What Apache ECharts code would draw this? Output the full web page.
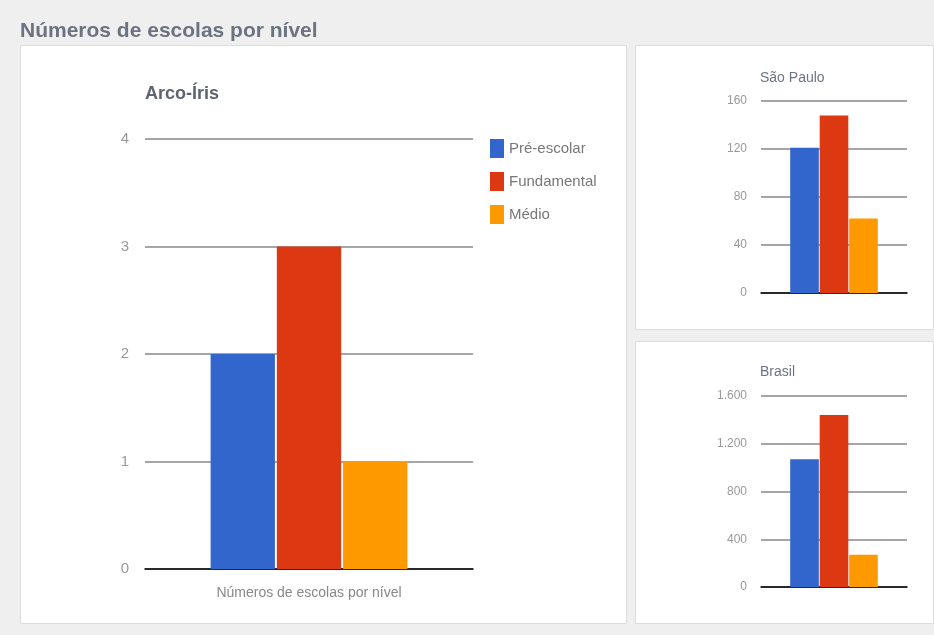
<!DOCTYPE html>
<html>
<head>
<meta charset="utf-8">
<script src="https://cdn.jsdelivr.net/npm/echarts@6/dist/echarts.min.js"></script>
<style>
html,body{margin:0;padding:0;background:#efefef;}
#c{width:934px;height:635px;}
</style>
</head>
<body>
<div id="c"></div>
<script>
var seriesNames = ['Pré-escolar', 'Fundamental', 'Médio'];
var colors = ['#3366cc', '#dc3912', '#ff9900'];
var categories = ['Números de escolas por nível'];
var arcoIris = [2, 3, 1];
var saoPaulo = [121, 148, 62];
var brasil = [1070, 1440, 270];
var mainTitle = 'Números de escolas por nível';
var chartTitles = ['Arco-Íris', 'São Paulo', 'Brasil'];

var FONT = '"Liberation Sans", Arial, sans-serif';
function ptBR(v){ return String(v).replace(/\B(?=(\d{3})+(?!\d))/g, '.'); }

var chart = echarts.init(document.getElementById('c'));

function yAx(gi, max, interval, fs, fmt){
  return {
    type: 'value', gridIndex: gi, min: 0, max: max, interval: interval,
    axisLine: {show: false}, axisTick: {show: false},
    axisLabel: {color: '#999', fontSize: fs, fontFamily: FONT, margin: gi === 0 ? 16 : 14, formatter: fmt},
    splitLine: {lineStyle: {color: '#888', width: 1.5}}
  };
}
function xAx(gi, showLabel){
  return {
    type: 'category', gridIndex: gi, data: categories,
    axisLine: {lineStyle: {color: '#000', width: 1.5}},
    axisTick: {show: false},
    axisLabel: {show: showLabel, color: '#888', fontSize: 14, fontFamily: FONT, margin: 17}
  };
}

var datasets = [arcoIris, saoPaulo, brasil];
var series = [];
for (var g = 0; g < 3; g++) {
  for (var s = 0; s < 3; s++) {
    series.push({
      type: 'bar', name: seriesNames[s], xAxisIndex: g, yAxisIndex: g,
      data: [datasets[g][s]],
      barGap: '3%', barCategoryGap: '40%',
      itemStyle: {color: colors[s]},
      emphasis: {disabled: true}
    });
  }
}

chart.setOption({
  backgroundColor: '#efefef',
  animation: false,
  color: colors,
  graphic: [
    {type: 'rect', shape: {x: 20.5, y: 45.5, width: 606, height: 578}, style: {fill: '#fff', stroke: '#dcdcdc', lineWidth: 1}, z: -10},
    {type: 'rect', shape: {x: 635.5, y: 45.5, width: 298, height: 284}, style: {fill: '#fff', stroke: '#dcdcdc', lineWidth: 1}, z: -10},
    {type: 'rect', shape: {x: 635.5, y: 341.5, width: 298, height: 282}, style: {fill: '#fff', stroke: '#dcdcdc', lineWidth: 1}, z: -10}
  ],
  title: [
    {text: mainTitle, left: 15, top: 16, textStyle: {fontFamily: FONT, fontSize: 21, fontWeight: 'bold', color: '#6b7380'}},
    {text: chartTitles[0], left: 140, top: 80, textStyle: {fontFamily: FONT, fontSize: 18, fontWeight: 'bold', color: '#5d6570'}},
    {text: chartTitles[1], left: 755, top: 66, textStyle: {fontFamily: FONT, fontSize: 14, fontWeight: 'normal', color: '#6b7583'}},
    {text: chartTitles[2], left: 755, top: 360, textStyle: {fontFamily: FONT, fontSize: 14, fontWeight: 'normal', color: '#6b7583'}}
  ],
  legend: {
    orient: 'vertical', left: 485, top: 134, itemWidth: 14, itemHeight: 19, itemGap: 14,
    icon: 'rect', data: seriesNames,
    textStyle: {color: '#777', fontSize: 15, fontFamily: FONT}
  },
  grid: [
    {left: 145, top: 139, width: 328, height: 430},
    {left: 761, top: 101, width: 146, height: 192},
    {left: 761, top: 396, width: 146, height: 191}
  ],
  xAxis: [xAx(0, true), xAx(1, false), xAx(2, false)],
  yAxis: [
    yAx(0, 4, 1, 15),
    yAx(1, 160, 40, 12),
    yAx(2, 1600, 400, 12, ptBR)
  ],
  series: series
});
</script>
</body>
</html>
